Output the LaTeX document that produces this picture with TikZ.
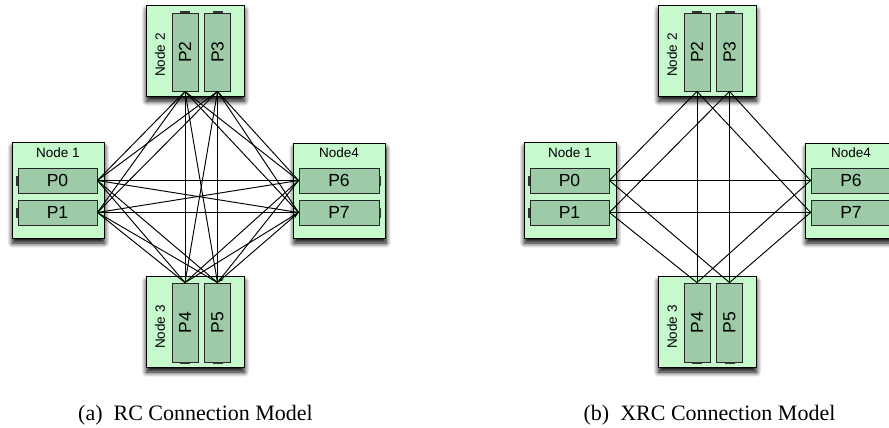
\documentclass[tikz,border=0pt]{standalone}
\usepackage{fontspec}
\setmainfont{Liberation Serif}
\newfontfamily\labelfont{Liberation Sans}
\usetikzlibrary{shadows.blur,arrows.meta}

\definecolor{hostfill}{RGB}{198,250,204}
\definecolor{procfill}{RGB}{157,203,168}

\tikzset{
  host/.style={draw=black, line width=0.9pt, fill=hostfill, inner sep=0pt,
    blur shadow={shadow xshift=0.5pt, shadow yshift=-5pt,
                 shadow blur radius=5pt, shadow blur steps=8, shadow opacity=100}},
  proc/.style={draw=black!85, line width=0.8pt, fill=procfill, inner sep=0pt,
    font=\labelfont\fontsize{17.5}{18}\selectfont},
  hostlabel/.style={font=\labelfont\fontsize{13.5}{14}\selectfont, inner sep=0pt},
  link/.style={line width=0.95pt, black},
  tab/.style={line width=1.4pt, black!80},
  caption/.style={font=\fontsize{22}{24}\selectfont, inner sep=0pt, anchor=base},
}

% One cluster of four hosts with two processes each.
% #1: name prefix, #2: horizontal offset
\newcommand\hostcluster[2]{%
  \begin{scope}[xshift=#2pt]
    % hosts
    \node[host, minimum width=92pt, minimum height=96pt] (#1-n1) at (58,190) {};
    \node[host, minimum width=98pt, minimum height=91pt] (#1-n2) at (195,50.5) {};
    \node[host, minimum width=98pt, minimum height=91pt] (#1-n3) at (195,321.5) {};
    \node[host, minimum width=92pt, minimum height=95pt] (#1-n4) at (339.5,190.5) {};
    % host labels
    \node[hostlabel] (#1-l1) at (58,153) {Node 1};
    \node[hostlabel, rotate=90] (#1-l2) at (160,55) {Node 2};
    \node[hostlabel, rotate=90] (#1-l3) at (160,327) {Node 3};
    \node[hostlabel] (#1-l4) at (339,153) {Node4};
    % processes (the vertical ones are rotated: west = bottom, east = top)
    \node[proc, minimum width=79pt, minimum height=25pt] (#1-p0) at (57.5,180.5) {P0};
    \node[proc, minimum width=79pt, minimum height=25pt] (#1-p1) at (57.5,212.5) {P1};
    \node[proc, rotate=90, minimum width=78pt, minimum height=26pt] (#1-p2) at (185,52) {P2};
    \node[proc, rotate=90, minimum width=78pt, minimum height=26pt] (#1-p3) at (217.5,52) {P3};
    \node[proc, rotate=90, minimum width=79pt, minimum height=26pt] (#1-p4) at (185,322.5) {P4};
    \node[proc, rotate=90, minimum width=79pt, minimum height=26pt] (#1-p5) at (217.5,322.5) {P5};
    \node[proc, minimum width=80pt, minimum height=25pt] (#1-p6) at (339,180.5) {P6};
    \node[proc, minimum width=80pt, minimum height=25pt] (#1-p7) at (339,212.5) {P7};
    % end caps on the outer side of each process
    \foreach \p in {p0,p1} \draw[tab] (#1-\p.west) ++(-0.5,-5) -- ++(0,10);
    \foreach \p in {p6,p7} \draw[tab] (#1-\p.east) ++(0.5,-5) -- ++(0,10);
    \foreach \p in {p2,p3} \draw[tab] (#1-\p.east) ++(-5,-0.5) -- ++(10,0);
    \foreach \p in {p4,p5} \draw[tab] (#1-\p.west) ++(-5,0.5) -- ++(10,0);
  \end{scope}%
}

\begin{document}
\begin{tikzpicture}[x=1pt, y=-1pt]
  \useasboundingbox (0,0) rectangle (889,428);
  \clip (0,0) rectangle (889,428);

  % ---------------- (a) RC: every process to every remote process
  \hostcluster{a}{0}
  \foreach \s/\t in {p0/p2, p0/p3, p1/p2, p1/p3}
    \draw[link] (a-\s.east) -- (a-\t.west);
  \foreach \s/\t in {p0/p4, p0/p5, p1/p4, p1/p5}
    \draw[link] (a-\s.east) -- (a-\t.east);
  \foreach \s/\t in {p0/p6, p0/p7, p1/p6, p1/p7}
    \draw[link] (a-\s.east) -- (a-\t.west);
  \foreach \s/\t in {p2/p4, p2/p5, p3/p4, p3/p5}
    \draw[link] (a-\s.west) -- (a-\t.east);
  \foreach \s/\t in {p2/p6, p2/p7, p3/p6, p3/p7}
    \draw[link] (a-\s.west) -- (a-\t.west);
  \foreach \s/\t in {p4/p6, p4/p7, p5/p6}
    \draw[link] (a-\s.east) -- (a-\t.west);
  \draw[link, {Stealth[length=7pt,width=4pt]}-{Stealth[length=7pt,width=4pt]}]
    (a-p5.east) -- (a-p7.west);

  % ---------------- (b) XRC: one connection per remote host
  \hostcluster{b}{512}
  \draw[link] (b-p0.east) -- (b-p6.west);
  \draw[link] (b-p1.east) -- (b-p7.west);
  \draw[link] (b-p2.west) -- (b-p4.east);
  \draw[link] (b-p3.west) -- (b-p5.east);
  \draw[link] (b-p0.east) -- (b-p2.west);
  \draw[link] (b-p1.east) -- (b-p3.west);
  \draw[link] (b-p2.west) -- (b-p7.west);
  \draw[link] (b-p3.west) -- (b-p6.west);
  \draw[link] (b-p0.east) -- (b-p5.east);
  \draw[link] (b-p1.east) -- (b-p4.east);
  \draw[link] (b-p4.east) -- (b-p6.west);
  \draw[link] (b-p5.east) -- (b-p7.west);

  % captions
  \node[caption] (capa) at (195.5,420) {(a)\hspace{0.5em}RC Connection Model};
  \node[caption] (capb) at (709.5,420) {(b)\hspace{0.5em}XRC Connection Model};
\end{tikzpicture}
\end{document}
